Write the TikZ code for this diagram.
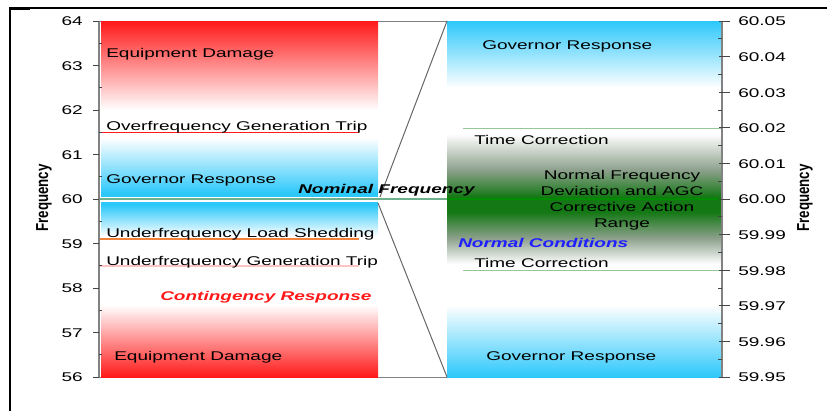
\documentclass[tikz,border=0pt]{standalone}
\usepackage{graphicx}
\usepackage{fontspec}
\setmainfont[FakeStretch=1.5]{Liberation Sans}
\newfontfamily\plainsf{Liberation Sans}
\definecolor{cRed}{RGB}{255,25,25}
\definecolor{cBlue}{RGB}{45,200,250}
\definecolor{cGreen}{RGB}{20,120,20}
\definecolor{cGreenMid}{RGB}{140,160,140}
\definecolor{cAxis}{RGB}{130,130,130}
\definecolor{cTick}{RGB}{70,70,70}
\definecolor{cNom}{RGB}{110,175,140}
\definecolor{cTC}{RGB}{150,200,150}
\definecolor{cOrange}{RGB}{240,130,60}
\definecolor{cPink}{RGB}{255,195,195}
\definecolor{cTxtBlue}{RGB}{30,30,255}
\begin{document}
\begin{tikzpicture}[x=0.75pt,y=-0.75pt,
  every node/.style={inner sep=0pt, font=\fontsize{9.5}{12}\selectfont},
  lbl/.style={anchor=base west},
  emph/.style={anchor=base west, font=\fontsize{9.5}{12}\selectfont\bfseries\itshape},
  axisline/.style={cAxis, line width=1.5pt},
  tickline/.style={cTick, line width=0.75pt},
  frameline/.style={black, line width=1.3pt},
  slant/.style={black!60, line width=0.75pt}]
\useasboundingbox (0,0) rectangle (827,411);
% frame
\draw[frameline] (10,8) -- (827,8);
\draw[frameline, line width=1.6pt] (10,7.5) -- (10,411);
\fill[black] (9,6.8) rectangle (30,9.8);
% plot border
\draw[cAxis, line width=0.75pt] (99,21) -- (722,21);
\draw[cAxis, line width=0.75pt] (99,377) -- (722,377);
% left upper bar
\fill[top color=cRed, middle color=cRed!45, bottom color=white] (101,21) rectangle (378,110);
\fill[top color=white, middle color=cBlue!45, bottom color=cBlue] (101,138) rectangle (378,193);
\fill[cBlue] (101,193) rectangle (378,197);
% left lower bar
\fill[cBlue] (101,202) rectangle (378,205);
\fill[top color=cBlue, middle color=cBlue!40, bottom color=white] (101,205) rectangle (378,236);
\fill[top color=white, middle color=cRed!40, bottom color=cRed] (101,305) rectangle (378,377);
% right bar
\fill[top color=cBlue, middle color=cBlue!40, bottom color=white] (447,21) rectangle (721,88);
\fill[top color=white, bottom color=cGreenMid] (447,134) rectangle (721,170);
\fill[top color=cGreenMid, bottom color=cGreen] (447,170) rectangle (721,197);
\fill[cGreen] (447,197) rectangle (721,212);
\fill[top color=cGreen, bottom color=cGreenMid] (447,212) rectangle (721,238);
\fill[top color=cGreenMid, bottom color=white] (447,238) rectangle (721,264);
\fill[top color=white, middle color=cBlue!40, bottom color=cBlue] (447,305) rectangle (721,377);
% level lines
\draw[cRed, line width=0.75pt] (99,132) -- (359,132);
\draw[cOrange, line width=0.9pt] (99,239) -- (359,239);
\draw[cPink, line width=0.9pt] (99,266) -- (359,266);
\draw[cNom, line width=1.1pt] (99,199) -- (447,199);
\draw[green!55!black, line width=0.9pt] (447,199) -- (721,199);
\draw[cTC, line width=0.75pt] (463,128) -- (722,128);
\draw[cTC, line width=0.75pt] (463,270) -- (722,270);
% zoom lines
\coordinate (lu) at (380,197);
\coordinate (ru) at (447,21);
\coordinate (ll) at (378,203);
\coordinate (rl) at (447,377);
\draw[slant] (lu) -- (ru);
\draw[slant] (ll) -- (rl);
% axes
\draw[axisline] (99,21) -- (99,377);
\draw[axisline] (722,21) -- (722,377);
\foreach \v in {56,...,64} {
  \pgfmathsetmacro\yy{377-(\v-56)*44.5}
  \draw[tickline] (93,\yy) -- (99,\yy);
  \node[anchor=east] (l\v) at (83,\yy+0.5) {\v};
}
\foreach \k in {0,...,7} {
  \pgfmathsetmacro\yy{377-(\k+0.5)*44.5}
  \draw[tickline] (99,\yy) -- (102,\yy);
}
\foreach \i/\t in {0/60.05,1/60.04,2/60.03,3/60.02,4/60.01,5/60.00,6/59.99,7/59.98,8/59.97,9/59.96,10/59.95} {
  \pgfmathsetmacro\yy{21+\i*35.6}
  \draw[tickline] (719,\yy) -- (730,\yy);
  \node[anchor=west] (r\i) at (738,\yy+0.5) {\t};
}
\foreach \k in {0,...,9} {
  \pgfmathsetmacro\yy{21+(\k+0.5)*35.6}
  \draw[tickline] (718,\yy) -- (722,\yy);
}
% axis titles
\node[rotate=90, font=\plainsf\bfseries\fontsize{10}{12}\selectfont] (ftl) at (44,198) {\scalebox{1}[1.3]{Frequency}};
\node[rotate=90, font=\plainsf\bfseries\fontsize{10}{12}\selectfont] (ftr) at (805,198) {\scalebox{1}[1.3]{Frequency}};
% left texts
\node[lbl] (ed1) at (106,57) {Equipment Damage};
\node[lbl] (ogt) at (106,130) {Overfrequency Generation Trip};
\node[lbl] (gr1) at (106,183) {Governor Response};
\node[emph] (nom) at (298,193) {Nominal Frequency};
\node[lbl] (uls) at (106,237) {Underfrequency Load Shedding};
\node[lbl] (ugt) at (106,265) {Underfrequency Generation Trip};
\node[emph, text=cRed] (cr) at (160,300) {Contingency Response};
\node[lbl] (ed2) at (114,360) {Equipment Damage};
% right texts
\node[lbl] (gr2) at (482,49) {Governor Response};
\node[lbl] (tc1) at (474,144) {Time Correction};
\node[anchor=base, align=center] (nf) at (622,227) {Normal Frequency\\Deviation and AGC\\Corrective Action\\Range};
\node[emph, text=cTxtBlue] (nc) at (458,247) {Normal Conditions};
\node[lbl] (tc2) at (474,267) {Time Correction};
\node[lbl] (gr3) at (486,360) {Governor Response};
\end{tikzpicture}
\end{document}
